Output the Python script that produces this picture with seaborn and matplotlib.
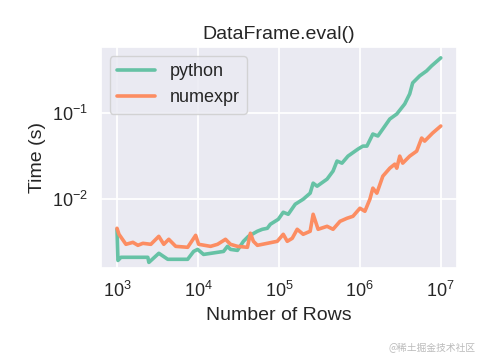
import pandas as pd
import matplotlib
matplotlib.use('Agg')
import matplotlib.pyplot as plt
import seaborn as sns

# 数据
rows_python = [1000, 1028, 1120, 1715, 2404, 2476, 3289, 4238, 7463, 8851, 9911,
               11740, 20700, 23180, 25230, 30760, 36480, 42050, 54230, 62490, 71980,
               78370, 98340, 113300, 130500, 159200, 199700, 243400, 265000, 296700,
               393700, 466800, 522600, 602100, 714000, 947400, 1092000, 1223000,
               1449000, 1671000, 1923000, 2345000, 2860000, 3586000, 4131000,
               4497000, 5485000, 6690000, 7704000, 10000000]
time_python = [0.00448, 0.00195, 0.00212, 0.00212, 0.00212, 0.00185, 0.00236, 0.00201,
               0.00201, 0.00248, 0.00262, 0.00229, 0.00248, 0.00284, 0.00262, 0.00255,
               0.00325, 0.00371, 0.00425, 0.00448, 0.00460, 0.00512, 0.00585, 0.00706,
               0.00669, 0.00875, 0.0100, 0.01175, 0.01535, 0.01416, 0.0171, 0.0212,
               0.0277, 0.0262, 0.0316, 0.0381, 0.0413, 0.0413, 0.0570, 0.0541, 0.0652,
               0.0851, 0.0973, 0.1273, 0.1664, 0.2234, 0.2692, 0.3079, 0.352, 0.436]

rows_numexpr = [1000, 1058, 1290, 1573, 1813, 2088, 2620, 3285, 3785, 4361, 5318,
                7470, 9370, 10200, 14330, 17470, 21910, 25240, 30780, 40870, 44480,
                48430, 54260, 71990, 95560, 113300, 126900, 146200, 168400, 199600,
                243400, 265000, 305200, 393800, 466900, 569100, 693800, 822500,
                1003000, 1155000, 1331000, 1449000, 1623000, 1924000, 2346000,
                2703000, 2860000, 3113000, 3389000, 4132000, 5039000, 5805000,
                6320000, 7927000, 10000000]
time_numexpr = [0.00460, 0.00392, 0.00300, 0.00316, 0.00292, 0.00308, 0.00300, 0.00371,
                0.00300, 0.00343, 0.00284, 0.00277, 0.00381, 0.00300, 0.00284, 0.00300,
                0.00343, 0.00300, 0.00284, 0.00277, 0.00403, 0.00325, 0.00292, 0.00308,
                0.00325, 0.00392, 0.00325, 0.00352, 0.00448, 0.00392, 0.00425, 0.00669,
                0.00448, 0.00485, 0.00448, 0.00554, 0.00601, 0.00634, 0.00786, 0.00725,
                0.0100, 0.01343, 0.01175, 0.0185, 0.0229, 0.0255, 0.0229, 0.0316,
                0.0262, 0.0316, 0.0361, 0.0512, 0.0472, 0.0585, 0.0706]

df = pd.concat([
    pd.DataFrame({'rows': rows_python, 'time': time_python, 'engine': 'python'}),
    pd.DataFrame({'rows': rows_numexpr, 'time': time_numexpr, 'engine': 'numexpr'}),
], ignore_index=True)

sns.set_theme(style='darkgrid', palette='Set2')
plt.rcParams['font.family'] = ['Liberation Sans', 'DejaVu Sans']
plt.rcParams['grid.linewidth'] = 1.3

fig, ax = plt.subplots(figsize=(4.8, 3.6), dpi=100)
fig.subplots_adjust(left=0.21, right=0.952, top=0.869, bottom=0.256)

sns.lineplot(data=df, x='rows', y='time', hue='engine', ax=ax, linewidth=2.6)
ax.set_xscale('log')
ax.set_yscale('log')
ax.set_ylim(0.0016, 0.58)

ax.set_title('DataFrame.eval()', fontsize=14)
ax.set_xlabel('Number of Rows', fontsize=14)
ax.set_ylabel('Time (s)', fontsize=14)
ax.tick_params(axis='both', labelsize=13)
ax.legend(loc='upper left', fontsize=13, handlelength=2.1)

# 水印
fig.text(0.99, 0.02, '@稀土掘金技术社区', ha='right', va='bottom', fontsize=7,
         color='#bbbbbb', family=['Noto Sans CJK SC', 'DejaVu Sans'])

plt.savefig('out.png', dpi=100)
